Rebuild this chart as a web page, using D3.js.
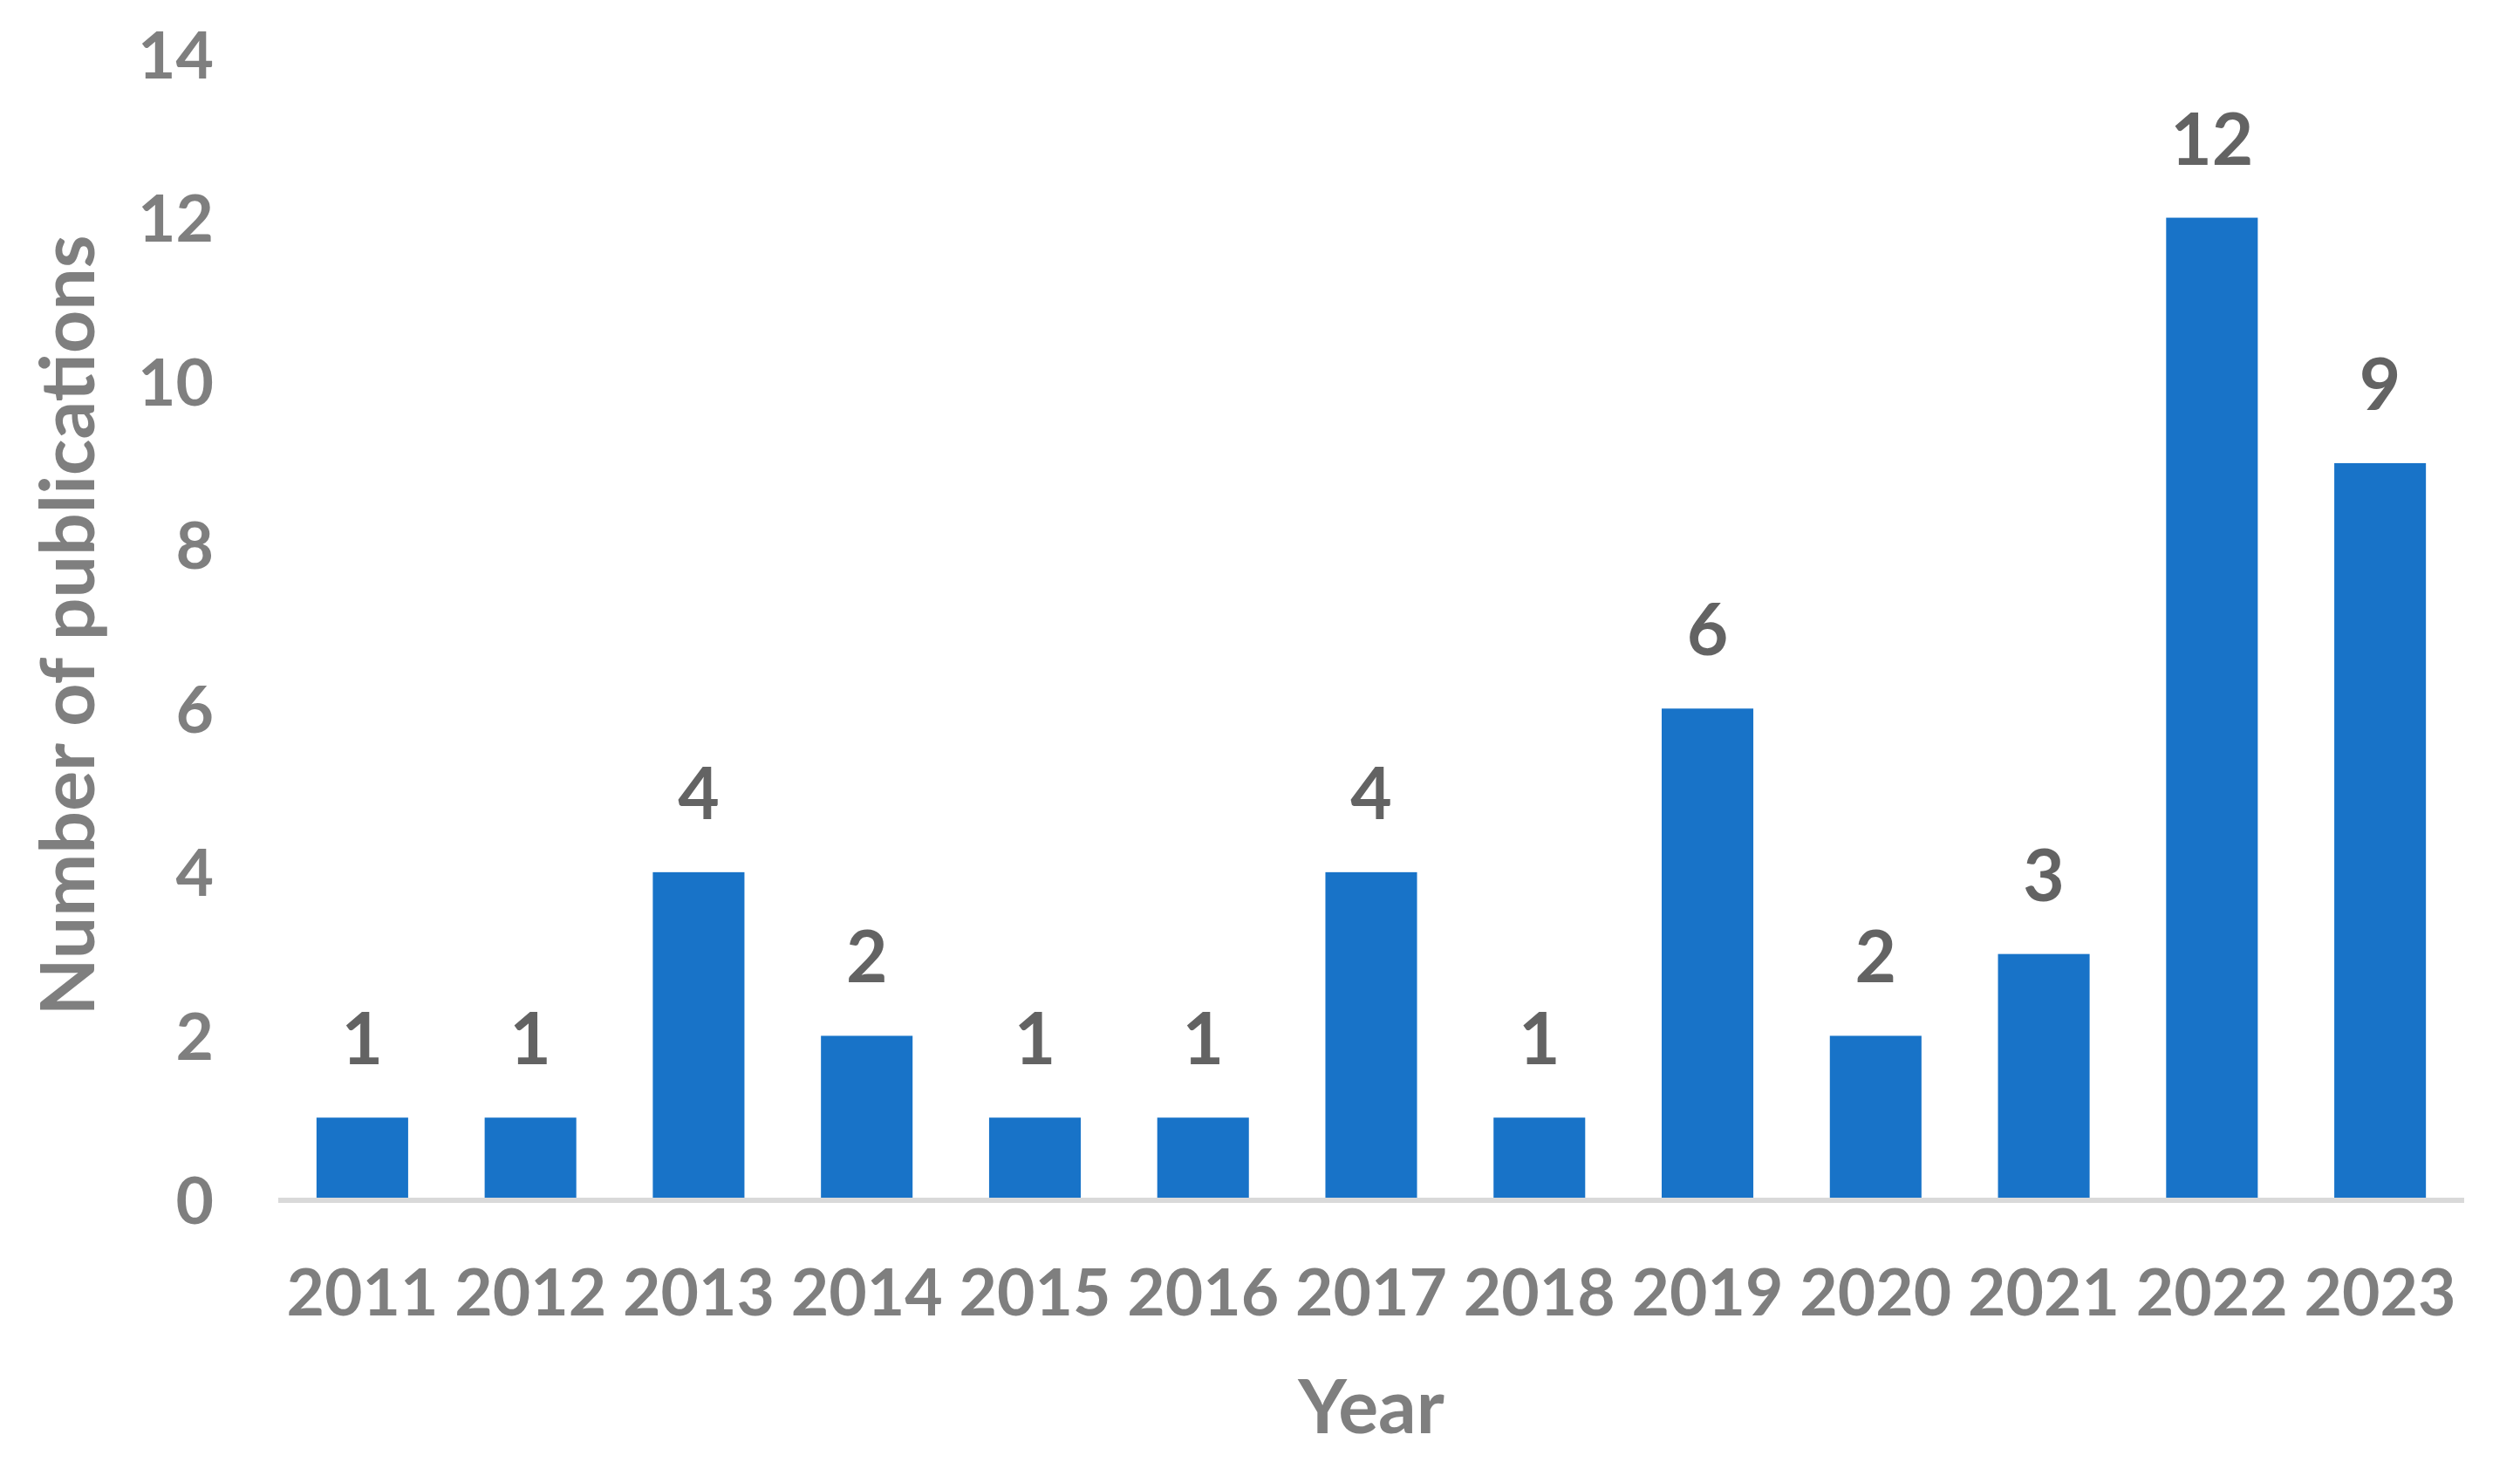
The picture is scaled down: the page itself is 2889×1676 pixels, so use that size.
<!DOCTYPE html>
<html>
<head>
<meta charset="utf-8">
<script src="https://cdn.jsdelivr.net/npm/d3@7"></script>
<style>
  body { margin: 0; background: #fff; }
  svg { display: block; font-family: Lato, "Open Sans", sans-serif; font-weight: bold; }
</style>
</head>
<body>
<div class="chart"></div>
<script>
var years = ['2011', '2012', '2013', '2014', '2015', '2016', '2017', '2018', '2019', '2020', '2021', '2022', '2023'];
var publications = [1, 1, 4, 2, 1, 1, 4, 1, 6, 2, 3, 12, 9];
var yTicks = [0, 2, 4, 6, 8, 10, 12, 14];

var svgWidth = 2889;
var svgHeight = 1676;

// plot area edges (names avoid window.top etc.)
var plotLeft = 319, plotRight = 2825, plotTop = 62, plotBottom = 1375;

var svg = d3.select('.chart').append('svg')
    .attr('width', svgWidth)
    .attr('height', svgHeight);

var x = d3.scaleBand()
    .domain(years)
    .range([plotLeft, plotRight])
    .paddingInner(0.455)
    .paddingOuter(0.2275);

var y = d3.scaleLinear()
    .domain([0, 14])
    .range([plotBottom, plotTop]);

// bars
svg.selectAll('.bar')
    .data(publications)
    .enter().append('rect')
    .attr('class', 'bar')
    .attr('x', function(d, i) { return x(years[i]); })
    .attr('width', x.bandwidth())
    .attr('y', function(d) { return y(d); })
    .attr('height', function(d) { return y(0) - y(d); })
    .attr('fill', '#1873c8');

// x axis line
svg.append('line')
    .attr('x1', plotLeft).attr('x2', plotRight)
    .attr('y1', y(0) + 1).attr('y2', y(0) + 1)
    .attr('stroke', '#d9d9d9')
    .attr('stroke-width', 6);

// y tick labels
var yAxis = d3.axisLeft(y).tickValues(yTicks).tickSize(0).tickPadding(0);
var gy = svg.append('g')
    .attr('transform', 'translate(245,0)')
    .call(yAxis);
gy.select('.domain').remove();
gy.selectAll('text')
    .attr('fill', '#7f7f7f')
    .attr('font-size', 75)
    .attr('font-family', 'Lato, sans-serif')
    .attr('font-weight', 'bold')
    .attr('dy', '0.36em');

// x tick labels
var xAxis = d3.axisBottom(x).tickSize(0).tickPadding(0);
var gx = svg.append('g')
    .attr('transform', 'translate(0,1508)')
    .call(xAxis);
gx.select('.domain').remove();
gx.selectAll('text')
    .attr('fill', '#7f7f7f')
    .attr('font-size', 75)
    .attr('font-family', 'Lato, sans-serif')
    .attr('font-weight', 'bold')
    .attr('dy', 0);

// data labels
svg.selectAll('.label')
    .data(publications)
    .enter().append('text')
    .attr('class', 'label')
    .attr('x', function(d, i) { return x(years[i]) + x.bandwidth() / 2; })
    .attr('y', function(d) { return y(d) - 61; })
    .attr('text-anchor', 'middle')
    .attr('fill', '#636363')
    .attr('font-size', 82)
    .text(function(d) { return d; });

// axis titles
svg.append('text')
    .attr('x', (plotLeft + plotRight) / 2)
    .attr('y', 1643)
    .attr('text-anchor', 'middle')
    .attr('fill', '#7f7f7f')
    .attr('font-size', 86)
    .text('Year');

svg.append('text')
    .attr('transform', 'translate(108,717) rotate(-90)')
    .attr('text-anchor', 'middle')
    .attr('fill', '#7f7f7f')
    .attr('font-size', 86)
    .text('Number of publications');
</script>
</body>
</html>
